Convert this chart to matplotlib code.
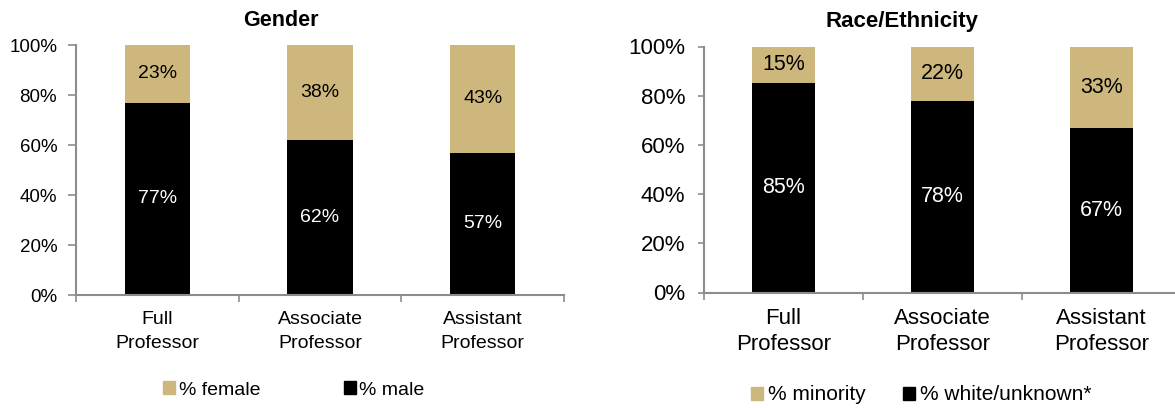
import matplotlib
matplotlib.use("Agg")
import matplotlib.pyplot as plt
from matplotlib.patches import Patch

plt.rcParams['font.family'] = ['Liberation Sans', 'DejaVu Sans']

categories = ["Full\nProfessor", "Associate\nProfessor", "Assistant\nProfessor"]
male = [77, 62, 57]
female = [23, 38, 43]
white_unknown = [85, 78, 67]
minority = [15, 22, 33]
yticks = [0, 20, 40, 60, 80, 100]

TAN = "#CEB77D"
BLACK = "#000000"
AXC = "#8C8C8C"

fig = plt.figure(figsize=(11.75, 4.08), dpi=100)

def panel(rect, bottom_vals, top_vals, fs_tick, fs_cat, fs_lab, ls, xpad, ytl, ypad):
    ax = fig.add_axes(rect)
    x = list(range(len(categories)))
    ax.bar(x, bottom_vals, width=0.4, color=BLACK, edgecolor='none')
    ax.bar(x, top_vals, width=0.4, bottom=bottom_vals, color=TAN, edgecolor='none')
    for i in x:
        ax.text(i, bottom_vals[i] / 2, f"{bottom_vals[i]}%", ha='center', va='center',
                color='white', fontsize=fs_lab)
        ax.text(i, bottom_vals[i] + top_vals[i] / 2, f"{top_vals[i]}%", ha='center',
                va='center', color='black', fontsize=fs_lab)
    ax.set_xlim(-0.5, 2.5)
    ax.set_ylim(0, 100)
    ax.set_yticks(yticks)
    ax.set_yticklabels([f"{v}%" for v in yticks], fontsize=fs_tick)
    ax.set_xticks([-0.5, 0.5, 1.5, 2.5])
    ax.set_xticklabels([])
    ax.set_xticks(x, minor=True)
    ax.set_xticklabels(categories, minor=True, fontsize=fs_cat, linespacing=ls)
    ax.tick_params(axis='x', which='minor', length=0, pad=xpad)
    ax.tick_params(axis='x', which='major', length=5, color=AXC, width=1.2)
    ax.tick_params(axis='y', length=ytl, color=AXC, width=1.2, pad=ypad)
    for s in ['top', 'right']:
        ax.spines[s].set_visible(False)
    for s in ['left', 'bottom']:
        ax.spines[s].set_color(AXC)
        ax.spines[s].set_linewidth(1.5)
    return ax

ax1 = panel([76/1175, 1-295/408, (564-76)/1175, (295-45)/408], male, female,
            13.5, 14, 14, 1.55, 11.5, 6, 7.5)
ax2 = panel([704/1175, 1-292.5/408, (1181-704)/1175, (292.5-46.5)/408], white_unknown, minority,
            16, 16, 15.5, 1.3, 11.5, 4.5, 9)

fig.text(281/1175, 1-20/408, "Gender", ha='center', va='center', fontsize=15.5, fontweight='bold')
fig.text(902/1175, 1-21/408, "Race/Ethnicity", ha='center', va='center', fontsize=16, fontweight='bold')

fig.legend(handles=[Patch(color=TAN, label="% female"), Patch(color=BLACK, label="% male")],
           loc='center', bbox_to_anchor=(294/1175, 1-390/408), ncol=2, frameon=False,
           fontsize=14, handlelength=0.6, handleheight=0.6, handletextpad=0.2,
           columnspacing=4.3)
fig.legend(handles=[Patch(color=TAN, label="% minority"), Patch(color=BLACK, label="% white/unknown*")],
           loc='center', bbox_to_anchor=(921/1175, 1-395/408), ncol=2, frameon=False,
           fontsize=15, handlelength=0.6, handleheight=0.6, handletextpad=0.2,
           columnspacing=1.8)

fig.savefig("out.png", dpi=100)
